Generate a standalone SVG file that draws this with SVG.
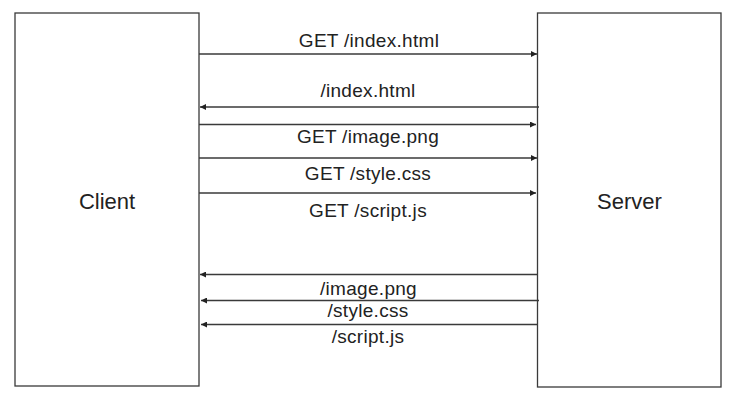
<svg xmlns="http://www.w3.org/2000/svg" width="746" height="408" viewBox="0 0 746 408">
<style>
.box{fill:#ffffff;stroke:#3a3a3a;stroke-width:1.3}
.lbl{font-family:"Liberation Sans",Arial,sans-serif;fill:#222;text-anchor:middle}
.node{font-size:22px}
.msg{font-size:19px;letter-spacing:0.3px}
.c line{stroke:#3a3a3a;stroke-width:1.3}
.req{marker-end:url(#ah)}
.res{marker-end:url(#ah)}
</style>
<defs>
<marker id="ah" viewBox="0 0 10 10" refX="10" refY="5" markerWidth="7" markerHeight="6" markerUnits="userSpaceOnUse" orient="auto">
<path d="M0,0 L10,5 L0,10 z" fill="#222"/>
</marker>
</defs>
<rect width="746" height="408" fill="#ffffff"/>
<g id="client">
<rect class="box" x="15" y="13" width="184" height="373"/>
<text class="lbl node" x="107" y="208.5">Client</text>
</g>
<g id="server">
<rect class="box" x="537.5" y="13" width="183.5" height="374"/>
<text class="lbl node" x="629.5" y="208.5">Server</text>
</g>
<g id="connectors" class="c">
<line class="req" x1="199" y1="54" x2="537" y2="54"/>
<line class="res" x1="539" y1="107" x2="200" y2="107"/>
<line class="req" x1="199" y1="124.5" x2="536" y2="124.5"/>
<line class="req" x1="199" y1="158" x2="537" y2="158"/>
<line class="req" x1="199" y1="193" x2="536" y2="193"/>
<line class="res" x1="538" y1="274.5" x2="200" y2="274.5"/>
<line class="res" x1="539" y1="300.5" x2="201" y2="300.5"/>
<line class="res" x1="538" y1="324.5" x2="201" y2="324.5"/>
</g>
<g id="labels">
<text class="lbl msg" x="369" y="47.3">GET /index.html</text>
<text class="lbl msg" x="368" y="97.3">/index.html</text>
<text class="lbl msg" x="368" y="143.3">GET /image.png</text>
<text class="lbl msg" x="368" y="180">GET /style.css</text>
<text class="lbl msg" x="368" y="216.7">GET /script.js</text>
<text class="lbl msg" x="368.5" y="295">/image.png</text>
<text class="lbl msg" x="368" y="316.5">/style.css</text>
<text class="lbl msg" x="368" y="342.7">/script.js</text>
</g>
</svg>
